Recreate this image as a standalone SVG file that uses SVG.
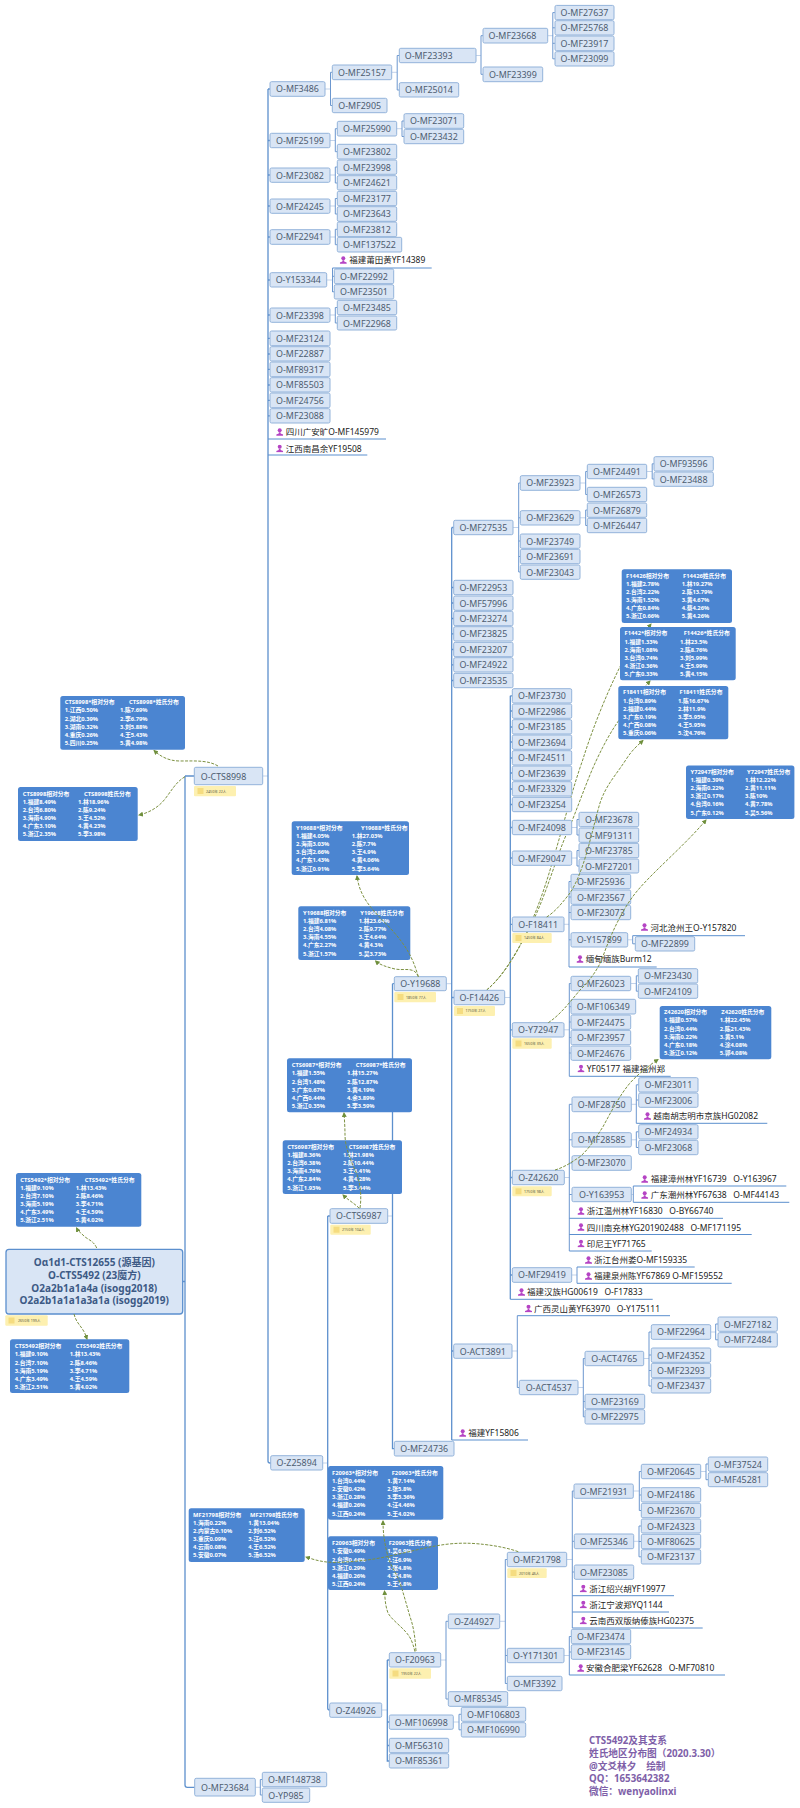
<svg xmlns="http://www.w3.org/2000/svg" xmlns:xlink="http://www.w3.org/1999/xlink" width="800" height="1808" viewBox="0 0 800 1808">
<style>
text{font-family:"Noto Sans","Noto Sans CJK SC",sans-serif}
.n{fill:#d9e5f5;stroke:#93b3da;stroke-width:1;rx:1.5px}
.t{font-size:8.9px;fill:#4d5c70;text-anchor:middle}
.p{font-size:8.5px;fill:#222;white-space:pre;font-family:"Noto Sans","Noto Sans CJK SC",sans-serif}
.u{stroke:#5b8fce;stroke-width:1;fill:none}
.v{stroke:#6c97cf;stroke-width:1;fill:none}
.v2{stroke:#5d90cd;stroke-width:1.3;fill:none}
.s{stroke:#c3d3ea;stroke-width:1;fill:none}
.d{stroke:#7d9142;stroke-width:1;fill:none;stroke-dasharray:3 1.4;marker-end:url(#ah)}
.c{fill:#4b85d1;rx:2.5px}
.ct{font-size:5.8px;font-weight:700;fill:#fff;font-family:"Noto Sans","Noto Sans CJK SC",sans-serif}
.g{fill:#fdf0b0;rx:1px}
.gt{font-size:3.6px;fill:#5a5a44}
.gi{fill:#f5dc80}
.w{font-size:9.7px;font-weight:700;fill:#7e60a8;font-family:"Noto Sans","Noto Sans CJK SC",sans-serif}
.r{font-size:10px;font-weight:700;fill:#3d5a85;text-anchor:middle;font-family:"Noto Sans","Noto Sans CJK SC",sans-serif}
</style>
<defs>
<marker id="ah" markerWidth="5" markerHeight="5" refX="4" refY="2.5" orient="auto" markerUnits="userSpaceOnUse"><path d="M0,0L5,2.5L0,5z" fill="#6f8f3c"/></marker>
<symbol id="pi" viewBox="0 0 7 8"><circle cx="3.5" cy="2.2" r="2" fill="#b544c4"/><path d="M2.6,4.2h1.8v1.2l2.6,1v1.4h-7v-1.4l2.6,-1z" fill="#b544c4"/></symbol>
</defs>
<g id="connectors">
<path class="v2" d="M182.7,1281.5H185M185,776H194M185,776V1785q0,2.3 2.3,2.3H194.7"/>
<path class="s" d="M262.7,776H268"/>
<path class="v2" d="M268,89V1461q0,2 2,2H271M268,89H270M268,140.5H270M268,175H270M268,206H270M268,237H270M268,280H270M268,315H270M268,338.3H270M268,354H270M268,369.3H270M268,385H270M268,400.3H270M268,415.8H270"/>
<path class="s" d="M325,89H330.5M391.7,72.3H397M476,55.5H481M547.7,35.7H553M330,140.5H335.3M396.7,128.7H402M330,175H335.3M330,206H335.3M330,237H335.3M326.7,280H332.5M330,315H335.3M513,527.5H518.7M580,483H585.7M646.7,471.5H652M580,517.8H585.7M571.7,827.5H577M571.7,858H577M564,924.3H569M627.7,939.8H632.7M564,1029.8H569.3M630.7,983.5H636.3M564.3,1177.5H569.3M631.3,1104.3H636.3M631.3,1139.8H636.3M631.3,1194.5H633.3M571.7,1275H577M512,1351H517.3M578,1387.5H583.3M643.7,1358.5H649M710.7,1332H715.7M440.7,1660H446M499.7,1621.3H505.3M566.7,1559.5H572.3M564,1655.5H569.3M633.3,1491H639.3M700.7,1471.5H706M633.7,1541.3H639M453.3,1722H459M255.3,1787.3H260.3M322.7,1463H327.7M387.7,1216H392.5M381.7,1710H387.3M446.3,983.7H451.7M504.7,997.5H510.3"/>
<path class="v" d="M330.5,72.3V105.5M330.5,72.3H332.3M330.5,105.5H332.3M397.2,55.5V90M397.2,55.5H399.3M397.2,90H399.3M481,35.7V74.3M481,35.7H483M481,74.3H483M552.8,12.6V58.8M552.8,12.6H555M552.8,27.8H555M552.8,43.3H555M552.8,58.8H555M335.3,128.7V151.7M335.3,128.7H337.3M335.3,151.7H337.3M402,121V136.5M402,121H404M402,136.5H404M335.3,167V183M335.3,167H337.3M335.3,183H337.3M335.3,198.5V214M335.3,198.5H337.3M335.3,214H337.3M335.3,229.3V244.7M335.3,229.3H337.3M335.3,244.7H337.3M332.5,268V292M332.5,276.3H334.3M332.5,291.8H334.3M335.3,307.5V323M335.3,307.5H337.3M335.3,323H337.3"/>
<path class="v2" d="M327.7,1216V1708q0,2 2,2M327.7,1216H330M392.5,983.7V1448.7H394.3M392.5,983.7H394.3M387.3,1660V1761H389.3M387.3,1660H389.3M387.3,1722H389.3M387.3,1745.5H389.3M451.7,527.5V1440M451.7,527.5H453.7M451.7,587.5H453.7M451.7,603H453.7M451.7,618.5H453.7M451.7,633.8H453.7M451.7,649.5H453.7M451.7,664.8H453.7M451.7,680.5H453.7M451.7,997.5H454M451.7,1351H453.7M510.3,695.8V1299.3M510.3,695.8H512.3M510.3,711H512.3M510.3,727H512.3M510.3,742H512.3M510.3,758H512.3M510.3,773H512.3M510.3,789H512.3M510.3,804.5H512.3M510.3,827.5H512.3M510.3,858H512.3M510.3,924.3H512.3M510.3,1029.8H512.3M510.3,1177.5H512.3M510.3,1275H512.3"/>
<path class="v" d="M518.7,483V572H520.3M518.7,483H520.3M518.7,517.8H520.3M518.7,541H520.3M518.7,556.5H520.3M585.7,471.5V494.5H587.3M585.7,471.5H587.3M652.2,463.8V479H654M652.2,463.8H654M585.7,510V525.5H587.3M585.7,510H587.3M577,819.5V835H579M577,819.5H579M577,850.5V866H579M577,850.5H579M569,881.5V967M569,881.5H571M569,897H571M569,912.5H571M569,939.8H571M632.7,935.7V943.8H635.3M569.3,983.5V1076.3M569.3,983.5H571M569.3,1006.7H571M569.3,1022H571M569.3,1037.5H571M569.3,1053H571M636.3,975.8V991.2H638.3M636.3,975.8H638.3M569.3,1104.3V1251M569.3,1104.3H572M569.3,1139.8H572M569.3,1163H572M569.3,1194.5H572M636.3,1084.8V1123.3M636.3,1084.8H638.7M636.3,1100H638.7M636.3,1131.8V1147.5H638.7M636.3,1131.8H638.7M633.3,1186V1202.3M577,1267V1283.3M517.3,1315.7V1387.5H519.3M583.3,1358.5V1416.8H585M583.3,1358.5H585M583.3,1401.5H585M649,1332V1386H651.3M649,1332H651.3M649,1355H651.3M649,1370.5H651.3M715.7,1324V1339.8H718M715.7,1324H718M446,1621.3V1699H448.3M446,1621.3H448.3M505.3,1559.5V1683.5H507.3M505.3,1559.5H507.3M505.3,1655.5H507.3M572.3,1491V1628M572.3,1491H574M572.3,1541.3H574.3M572.3,1572H574.3M569.3,1636.5V1675M569.3,1636.5H571.3M569.3,1652H571.3M639.3,1471.5V1510.5H641.3M639.3,1471.5H641.3M639.3,1495H641.3M706,1464V1479.7H708.3M706,1464H708.3M639,1526V1556.8H641.3M639,1526H641.3M639,1541.5H641.3M459,1714.3V1729.8H461.3M459,1714.3H461.3M260.3,1779.5V1795H262.3M260.3,1779.5H262.3"/>
<path class="d" d="M486.7,990C510,970 533,930 553,860C565,820 572,790 582.7,760C592,730 606,695 620,666.7C630,648 640,638 651,624"/>
<path class="d" d="M486.7,990C505,975 517,950 527,933C545,900 555,860 567,833C577,810 587,780 596.5,760C605,742 611,732 617,723C630,705 640,692 650,681"/>
</g>
<g id="nodes">
<g id="root"><rect x="6" y="1249.3" width="176.7" height="64.7" rx="3" fill="#d9e5f5" stroke="#5b8fce" stroke-width="1.3"/><text class="r" x="94.3" y="1266">Oα1d1-CTS12655 (源基因)</text><text class="r" x="94.3" y="1279">O-CTS5492 (23魔方)</text><text class="r" x="94.3" y="1291.7">O2a2b1a1a4a (isogg2018)</text><text class="r" x="94.3" y="1304.3">O2a2b1a1a1a3a1a (isogg2019)</text></g>
<g id="n-CTS8998"><rect class="n" x="194.3" y="767.3" width="68.4" height="17.4"/><text class="t" x="223.5" y="779.5">O-CTS8998</text></g>
<g id="n-MF23684"><rect class="n" x="194.7" y="1778.3" width="60.6" height="17.7"/><text class="t" x="225" y="1790.5">O-MF23684</text></g>
<g id="n-MF148738"><rect class="n" x="262.3" y="1772.3" width="64.4" height="14.4"/><text class="t" x="294.5" y="1783">O-MF148738</text></g>
<g id="n-YP985"><rect class="n" x="262.3" y="1788" width="47.4" height="14.3"/><text class="t" x="286" y="1798.7">O-YP985</text></g>
<g id="n-MF3486"><rect class="n" x="270" y="81.7" width="55" height="14.6"/><text class="t" x="297.5" y="92.4">O-MF3486</text></g>
<g id="n-MF25157"><rect class="n" x="332.3" y="65" width="59.4" height="14.7"/><text class="t" x="362" y="75.7">O-MF25157</text></g>
<g id="n-MF2905"><rect class="n" x="332.3" y="98.3" width="54.7" height="14.4"/><text class="t" x="359.7" y="109">O-MF2905</text></g>
<g id="n-MF23393"><rect class="n" x="399.3" y="48.3" width="76.7" height="14.4"/><text class="t" x="428.7" y="59">O-MF23393</text></g>
<g id="n-MF25014"><rect class="n" x="399.3" y="82.7" width="59.4" height="14.3"/><text class="t" x="429" y="93.4">O-MF25014</text></g>
<g id="n-MF23668"><rect class="n" x="483" y="28.3" width="64.7" height="14.7"/><text class="t" x="512.5" y="39">O-MF23668</text></g>
<g id="n-MF23399"><rect class="n" x="483" y="67" width="59.7" height="14.7"/><text class="t" x="512.8" y="77.7">O-MF23399</text></g>
<g id="n-MF27637"><rect class="n" x="555" y="5.4" width="59" height="14.3"/><text class="t" x="584.5" y="16.1">O-MF27637</text></g>
<g id="n-MF25768"><rect class="n" x="555" y="20.7" width="59" height="14.3"/><text class="t" x="584.5" y="31.4">O-MF25768</text></g>
<g id="n-MF23917"><rect class="n" x="555" y="36" width="59" height="14.7"/><text class="t" x="584.5" y="46.7">O-MF23917</text></g>
<g id="n-MF23099"><rect class="n" x="555" y="51.7" width="59" height="14.3"/><text class="t" x="584.5" y="62.4">O-MF23099</text></g>
<g id="n-MF25199"><rect class="n" x="270" y="133.3" width="60" height="14.4"/><text class="t" x="300" y="144">O-MF25199</text></g>
<g id="n-MF25990"><rect class="n" x="337.3" y="121.3" width="59.4" height="14.7"/><text class="t" x="367" y="132">O-MF25990</text></g>
<g id="n-MF23071"><rect class="n" x="404" y="113.7" width="59.7" height="14.6"/><text class="t" x="433.8" y="124.4">O-MF23071</text></g>
<g id="n-MF23432"><rect class="n" x="404" y="129.3" width="59.7" height="14.4"/><text class="t" x="433.8" y="140">O-MF23432</text></g>
<g id="n-MF23802"><rect class="n" x="337.3" y="144.3" width="59.4" height="14.7"/><text class="t" x="367" y="155">O-MF23802</text></g>
<g id="n-MF23082"><rect class="n" x="270" y="168" width="60" height="14.3"/><text class="t" x="300" y="178.7">O-MF23082</text></g>
<g id="n-MF23998"><rect class="n" x="337.3" y="160" width="59.4" height="14.3"/><text class="t" x="367" y="170.7">O-MF23998</text></g>
<g id="n-MF24621"><rect class="n" x="337.3" y="175.7" width="59.4" height="14.3"/><text class="t" x="367" y="186.4">O-MF24621</text></g>
<g id="n-MF24245"><rect class="n" x="270" y="199" width="60" height="14.3"/><text class="t" x="300" y="209.7">O-MF24245</text></g>
<g id="n-MF23177"><rect class="n" x="337.3" y="191.3" width="59.4" height="14.4"/><text class="t" x="367" y="202">O-MF23177</text></g>
<g id="n-MF23643"><rect class="n" x="337.3" y="206.7" width="59.4" height="14.6"/><text class="t" x="367" y="217.4">O-MF23643</text></g>
<g id="n-MF22941"><rect class="n" x="270" y="229.7" width="60" height="14.6"/><text class="t" x="300" y="240.4">O-MF22941</text></g>
<g id="n-MF23812"><rect class="n" x="337.3" y="222" width="59.4" height="14.7"/><text class="t" x="367" y="232.7">O-MF23812</text></g>
<g id="n-MF137522"><rect class="n" x="337.3" y="237.3" width="64.4" height="14.7"/><text class="t" x="369.5" y="248">O-MF137522</text></g>
<g id="n-Y153344"><rect class="n" x="270" y="272.7" width="56.7" height="14.3"/><text class="t" x="298.3" y="283.4">O-Y153344</text></g>
<g id="n-MF22992"><rect class="n" x="334.3" y="269" width="59.4" height="14.7"/><text class="t" x="364" y="279.7">O-MF22992</text></g>
<g id="n-MF23501"><rect class="n" x="334.3" y="284.7" width="59.4" height="14.3"/><text class="t" x="364" y="295.4">O-MF23501</text></g>
<g id="n-MF23398"><rect class="n" x="270" y="308" width="60" height="14.3"/><text class="t" x="300" y="318.7">O-MF23398</text></g>
<g id="n-MF23485"><rect class="n" x="337.3" y="300.3" width="59.4" height="14.4"/><text class="t" x="367" y="311">O-MF23485</text></g>
<g id="n-MF22968"><rect class="n" x="337.3" y="316" width="59.4" height="14"/><text class="t" x="367" y="326.7">O-MF22968</text></g>
<g id="n-MF23124"><rect class="n" x="270" y="331" width="60" height="14.7"/><text class="t" x="300" y="341.7">O-MF23124</text></g>
<g id="n-MF22887"><rect class="n" x="270" y="346.7" width="60" height="14.3"/><text class="t" x="300" y="357.4">O-MF22887</text></g>
<g id="n-MF89317"><rect class="n" x="270" y="362" width="60" height="14.7"/><text class="t" x="300" y="372.7">O-MF89317</text></g>
<g id="n-MF85503"><rect class="n" x="270" y="377.7" width="60" height="14.3"/><text class="t" x="300" y="388.4">O-MF85503</text></g>
<g id="n-MF24756"><rect class="n" x="270" y="393" width="60" height="14.7"/><text class="t" x="300" y="403.7">O-MF24756</text></g>
<g id="n-MF23088"><rect class="n" x="270" y="408.7" width="60" height="14.3"/><text class="t" x="300" y="419.4">O-MF23088</text></g>
<g id="p-putian"><use xlink:href="#pi" href="#pi" x="339.8" y="256" width="7" height="8"/><text class="p" x="349.3" y="263">福建莆田黄YF14389</text><path class="u" d="M332.5,268H431.7"/></g>
<g id="p-guangan"><use xlink:href="#pi" href="#pi" x="276.2" y="428" width="7" height="8"/><text class="p" x="285.7" y="435">四川广安旷O-MF145979</text><path class="u" d="M268,439H386"/></g>
<g id="p-nanchang"><use xlink:href="#pi" href="#pi" x="276.2" y="444.5" width="7" height="8"/><text class="p" x="285.7" y="451.7">江西南昌余YF19508</text><path class="u" d="M268,455H367.3"/></g>
<g id="n-Z25894"><rect class="n" x="270.7" y="1455.7" width="52" height="14.3"/><text class="t" x="296.7" y="1466.4">O-Z25894</text></g>
<g id="n-CTS6987"><rect class="n" x="330" y="1208.7" width="57.7" height="14.6"/><text class="t" x="358.8" y="1219.4">O-CTS6987</text></g>
<g id="n-Z44926"><rect class="n" x="329.7" y="1703" width="52" height="14.3"/><text class="t" x="355.7" y="1713.7">O-Z44926</text></g>
<g id="n-Y19688"><rect class="n" x="394.3" y="976.7" width="52" height="14"/><text class="t" x="420.3" y="987.4">O-Y19688</text></g>
<g id="n-MF24736"><rect class="n" x="394.3" y="1441.3" width="59.7" height="14.7"/><text class="t" x="424.2" y="1452">O-MF24736</text></g>
<g id="n-MF27535"><rect class="n" x="453.7" y="520.3" width="59.3" height="14.4"/><text class="t" x="483.3" y="531">O-MF27535</text></g>
<g id="n-MF22953"><rect class="n" x="453.7" y="580.3" width="59.3" height="14.4"/><text class="t" x="483.3" y="591">O-MF22953</text></g>
<g id="n-MF57996"><rect class="n" x="453.7" y="596" width="59.3" height="14.3"/><text class="t" x="483.3" y="606.7">O-MF57996</text></g>
<g id="n-MF23274"><rect class="n" x="453.7" y="611.3" width="59.3" height="14.4"/><text class="t" x="483.3" y="622">O-MF23274</text></g>
<g id="n-MF23825"><rect class="n" x="453.7" y="626.7" width="59.3" height="14.3"/><text class="t" x="483.3" y="637.4">O-MF23825</text></g>
<g id="n-MF23207"><rect class="n" x="453.7" y="642.3" width="59.3" height="14.4"/><text class="t" x="483.3" y="653">O-MF23207</text></g>
<g id="n-MF24922"><rect class="n" x="453.7" y="657.7" width="59.3" height="14.3"/><text class="t" x="483.3" y="668.4">O-MF24922</text></g>
<g id="n-MF23535"><rect class="n" x="453.7" y="673.3" width="59.3" height="14.4"/><text class="t" x="483.3" y="684">O-MF23535</text></g>
<g id="n-MF23923"><rect class="n" x="520.3" y="475.7" width="59.7" height="14.6"/><text class="t" x="550.2" y="486.4">O-MF23923</text></g>
<g id="n-MF23629"><rect class="n" x="520.3" y="510.7" width="59.7" height="14.3"/><text class="t" x="550.2" y="521.4">O-MF23629</text></g>
<g id="n-MF23749"><rect class="n" x="520.3" y="534" width="59.7" height="14.3"/><text class="t" x="550.2" y="544.7">O-MF23749</text></g>
<g id="n-MF23691"><rect class="n" x="520.3" y="549.3" width="59.7" height="14.4"/><text class="t" x="550.2" y="560">O-MF23691</text></g>
<g id="n-MF23043"><rect class="n" x="520.3" y="565" width="59.7" height="14.3"/><text class="t" x="550.2" y="575.7">O-MF23043</text></g>
<g id="n-MF24491"><rect class="n" x="587.3" y="464.3" width="59.4" height="14.4"/><text class="t" x="617" y="475">O-MF24491</text></g>
<g id="n-MF26573"><rect class="n" x="587.3" y="487.3" width="59.4" height="14.4"/><text class="t" x="617" y="498">O-MF26573</text></g>
<g id="n-MF26879"><rect class="n" x="587.3" y="503" width="59.4" height="14.3"/><text class="t" x="617" y="513.7">O-MF26879</text></g>
<g id="n-MF26447"><rect class="n" x="587.3" y="518.3" width="59.4" height="14.4"/><text class="t" x="617" y="529">O-MF26447</text></g>
<g id="n-MF93596"><rect class="n" x="654" y="456.7" width="59.3" height="14.3"/><text class="t" x="683.6" y="467.4">O-MF93596</text></g>
<g id="n-MF23488"><rect class="n" x="654" y="472" width="59.3" height="14.3"/><text class="t" x="683.6" y="482.7">O-MF23488</text></g>
<g id="n-F14426"><rect class="n" x="454" y="990.3" width="50.7" height="14.4"/><text class="t" x="479.3" y="1001">O-F14426</text></g>
<g id="n-MF23730"><rect class="n" x="512.3" y="688.7" width="59.4" height="14.3"/><text class="t" x="542" y="699.4">O-MF23730</text></g>
<g id="n-MF22986"><rect class="n" x="512.3" y="704" width="59.4" height="14.3"/><text class="t" x="542" y="714.7">O-MF22986</text></g>
<g id="n-MF23185"><rect class="n" x="512.3" y="719.7" width="59.4" height="14.3"/><text class="t" x="542" y="730.4">O-MF23185</text></g>
<g id="n-MF23694"><rect class="n" x="512.3" y="735" width="59.4" height="14.3"/><text class="t" x="542" y="745.7">O-MF23694</text></g>
<g id="n-MF24511"><rect class="n" x="512.3" y="750.7" width="59.4" height="14.3"/><text class="t" x="542" y="761.4">O-MF24511</text></g>
<g id="n-MF23639"><rect class="n" x="512.3" y="766" width="59.4" height="14.3"/><text class="t" x="542" y="776.7">O-MF23639</text></g>
<g id="n-MF23329"><rect class="n" x="512.3" y="781.7" width="59.4" height="14.3"/><text class="t" x="542" y="792.4">O-MF23329</text></g>
<g id="n-MF23254"><rect class="n" x="512.3" y="797.3" width="59.4" height="14.4"/><text class="t" x="542" y="808">O-MF23254</text></g>
<g id="n-MF24098"><rect class="n" x="512.3" y="820.3" width="59.4" height="14.4"/><text class="t" x="542" y="831">O-MF24098</text></g>
<g id="n-MF23678"><rect class="n" x="579" y="812.3" width="59.7" height="14.4"/><text class="t" x="608.8" y="823">O-MF23678</text></g>
<g id="n-MF91311"><rect class="n" x="579" y="828" width="59.7" height="14.3"/><text class="t" x="608.8" y="838.7">O-MF91311</text></g>
<g id="n-MF29047"><rect class="n" x="512.3" y="851" width="59.4" height="14.3"/><text class="t" x="542" y="861.7">O-MF29047</text></g>
<g id="n-MF23785"><rect class="n" x="579" y="843.3" width="59.7" height="14.4"/><text class="t" x="608.8" y="854">O-MF23785</text></g>
<g id="n-MF27201"><rect class="n" x="579" y="859" width="59.7" height="14"/><text class="t" x="608.8" y="869.7">O-MF27201</text></g>
<g id="n-F18411"><rect class="n" x="512.3" y="917" width="51.7" height="14.7"/><text class="t" x="538.2" y="927.7">O-F18411</text></g>
<g id="n-MF25936"><rect class="n" x="571" y="874.3" width="59.7" height="14.4"/><text class="t" x="600.8" y="885">O-MF25936</text></g>
<g id="n-MF23567"><rect class="n" x="571" y="890" width="59.7" height="14.3"/><text class="t" x="600.8" y="900.7">O-MF23567</text></g>
<g id="n-MF23073"><rect class="n" x="571" y="905.3" width="59.7" height="14.4"/><text class="t" x="600.8" y="916">O-MF23073</text></g>
<g id="n-Y157899"><rect class="n" x="571" y="932.7" width="56.7" height="14.3"/><text class="t" x="599.3" y="943.4">O-Y157899</text></g>
<g id="n-MF22899"><rect class="n" x="635.3" y="936.7" width="59.4" height="14.3"/><text class="t" x="665" y="947.4">O-MF22899</text></g>
<g id="p-hebei"><use xlink:href="#pi" href="#pi" x="641" y="923" width="7" height="8"/><text class="p" x="650.5" y="931">河北沧州王O-Y157820</text><path class="u" d="M632.7,935.7H745"/></g>
<g id="p-burm"><use xlink:href="#pi" href="#pi" x="576.5" y="955" width="7" height="8"/><text class="p" x="585.7" y="962.3">缅甸缅族Burm12</text><path class="u" d="M569,967H656.7"/></g>
<g id="n-Y72947"><rect class="n" x="512.3" y="1022.7" width="51.7" height="14.3"/><text class="t" x="538.2" y="1033.4">O-Y72947</text></g>
<g id="n-MF26023"><rect class="n" x="571" y="976.3" width="59.7" height="14.4"/><text class="t" x="600.8" y="987">O-MF26023</text></g>
<g id="n-MF23430"><rect class="n" x="638.3" y="968.7" width="59.4" height="14.3"/><text class="t" x="668" y="979.4">O-MF23430</text></g>
<g id="n-MF24109"><rect class="n" x="638.3" y="984" width="59.4" height="14.3"/><text class="t" x="668" y="994.7">O-MF24109</text></g>
<g id="n-MF106349"><rect class="n" x="571" y="999.3" width="64.7" height="14.7"/><text class="t" x="603.3" y="1010">O-MF106349</text></g>
<g id="n-MF24475"><rect class="n" x="571" y="1015" width="59.7" height="14.3"/><text class="t" x="600.8" y="1025.7">O-MF24475</text></g>
<g id="n-MF23957"><rect class="n" x="571" y="1030.3" width="59.7" height="14.4"/><text class="t" x="600.8" y="1041">O-MF23957</text></g>
<g id="n-MF24676"><rect class="n" x="571" y="1046" width="59.7" height="14.3"/><text class="t" x="600.8" y="1056.7">O-MF24676</text></g>
<g id="p-yf05177"><use xlink:href="#pi" href="#pi" x="577.5" y="1064.5" width="7" height="8"/><text class="p" x="586.7" y="1072">YF05177 福建福州郑</text><path class="u" d="M569.3,1076.3H670.7"/></g>
<g id="n-Z42620"><rect class="n" x="512.3" y="1170.3" width="52" height="14.4"/><text class="t" x="538.3" y="1181">O-Z42620</text></g>
<g id="n-MF28750"><rect class="n" x="572" y="1097" width="59.3" height="14.7"/><text class="t" x="601.7" y="1107.7">O-MF28750</text></g>
<g id="n-MF23011"><rect class="n" x="638.7" y="1077.7" width="59.3" height="14.3"/><text class="t" x="668.3" y="1088.4">O-MF23011</text></g>
<g id="n-MF23006"><rect class="n" x="638.7" y="1093" width="59.3" height="14.3"/><text class="t" x="668.3" y="1103.7">O-MF23006</text></g>
<g id="p-hcm"><use xlink:href="#pi" href="#pi" x="644" y="1112" width="7" height="8"/><text class="p" x="653.3" y="1119">越南胡志明市京族HG02082</text><path class="u" d="M636.3,1123.3H767.3"/></g>
<g id="n-MF28585"><rect class="n" x="572" y="1132.7" width="59.3" height="14.3"/><text class="t" x="601.7" y="1143.4">O-MF28585</text></g>
<g id="n-MF24934"><rect class="n" x="638.7" y="1124.7" width="59.3" height="14.3"/><text class="t" x="668.3" y="1135.4">O-MF24934</text></g>
<g id="n-MF23068"><rect class="n" x="638.7" y="1140.3" width="59.3" height="14.4"/><text class="t" x="668.3" y="1151">O-MF23068</text></g>
<g id="n-MF23070"><rect class="n" x="572" y="1155.7" width="59.3" height="14.6"/><text class="t" x="601.7" y="1166.4">O-MF23070</text></g>
<g id="n-Y163953"><rect class="n" x="572" y="1187.3" width="59.3" height="14.4"/><text class="t" x="601.7" y="1198">O-Y163953</text></g>
<g id="p-zhangzhou"><use xlink:href="#pi" href="#pi" x="641.2" y="1175" width="7" height="8"/><text class="p" x="650.7" y="1182">福建漳州林YF16739   O-Y163967</text><path class="u" d="M633.3,1186H786.3"/></g>
<g id="p-chaozhou"><use xlink:href="#pi" href="#pi" x="641.2" y="1191" width="7" height="8"/><text class="p" x="650.7" y="1198">广东潮州林YF67638   O-MF44143</text><path class="u" d="M633.3,1202.3H789.3"/></g>
<g id="p-wenzhou"><use xlink:href="#pi" href="#pi" x="577.5" y="1207" width="7" height="8"/><text class="p" x="586.7" y="1214.3">浙江温州林YF16830   O-BY66740</text><path class="u" d="M569.3,1218.3H723"/></g>
<g id="p-nanchong"><use xlink:href="#pi" href="#pi" x="577.5" y="1223" width="7" height="8"/><text class="p" x="586.7" y="1230.7">四川南充林YG201902488   O-MF171195</text><path class="u" d="M569.3,1234.5H751.7"/></g>
<g id="p-indo"><use xlink:href="#pi" href="#pi" x="577.5" y="1239.5" width="7" height="8"/><text class="p" x="586.7" y="1246.7">印尼王YF71765</text><path class="u" d="M569.3,1251H651.7"/></g>
<g id="n-MF29419"><rect class="n" x="512.3" y="1267.7" width="59.4" height="14.6"/><text class="t" x="542" y="1278.4">O-MF29419</text></g>
<g id="p-taizhou"><use xlink:href="#pi" href="#pi" x="585" y="1256" width="7" height="8"/><text class="p" x="594" y="1263">浙江台州娄O-MF159335</text><path class="u" d="M577,1267H694.7"/></g>
<g id="p-quanzhou"><use xlink:href="#pi" href="#pi" x="585" y="1272" width="7" height="8"/><text class="p" x="594" y="1279.3">福建泉州陈YF67869 O-MF159552</text><path class="u" d="M577,1283.3H731.7"/></g>
<g id="p-hg00619"><use xlink:href="#pi" href="#pi" x="518" y="1288" width="7" height="8"/><text class="p" x="527" y="1295.3">福建汉族HG00619   O-F17833</text><path class="u" d="M510.3,1299.3H652.7"/></g>
<g id="p-lingshan"><use xlink:href="#pi" href="#pi" x="525" y="1304.5" width="7" height="8"/><text class="p" x="534" y="1311.7">广西灵山黄YF63970   O-Y175111</text><path class="u" d="M517.3,1315.7H670"/></g>
<g id="n-ACT3891"><rect class="n" x="453.7" y="1344" width="58.3" height="14.3"/><text class="t" x="482.8" y="1354.7">O-ACT3891</text></g>
<g id="n-ACT4537"><rect class="n" x="519.3" y="1380.3" width="58.7" height="14.4"/><text class="t" x="548.7" y="1391">O-ACT4537</text></g>
<g id="n-ACT4765"><rect class="n" x="585" y="1351.3" width="58.7" height="14.4"/><text class="t" x="614.3" y="1362">O-ACT4765</text></g>
<g id="n-MF23169"><rect class="n" x="585" y="1394.3" width="59.7" height="14.4"/><text class="t" x="614.8" y="1405">O-MF23169</text></g>
<g id="n-MF22975"><rect class="n" x="585" y="1409.7" width="59.7" height="14.3"/><text class="t" x="614.8" y="1420.4">O-MF22975</text></g>
<g id="n-MF22964"><rect class="n" x="651.3" y="1324.7" width="59.4" height="14.6"/><text class="t" x="681" y="1335.4">O-MF22964</text></g>
<g id="n-MF24352"><rect class="n" x="651.3" y="1348" width="59.4" height="14.3"/><text class="t" x="681" y="1358.7">O-MF24352</text></g>
<g id="n-MF23293"><rect class="n" x="651.3" y="1363.3" width="59.4" height="14.4"/><text class="t" x="681" y="1374">O-MF23293</text></g>
<g id="n-MF23437"><rect class="n" x="651.3" y="1378.7" width="59.4" height="14.3"/><text class="t" x="681" y="1389.4">O-MF23437</text></g>
<g id="n-MF27182"><rect class="n" x="718" y="1317" width="59.3" height="14.3"/><text class="t" x="747.7" y="1327.7">O-MF27182</text></g>
<g id="n-MF72484"><rect class="n" x="718" y="1332.7" width="59.3" height="14.3"/><text class="t" x="747.7" y="1343.4">O-MF72484</text></g>
<g id="p-yf15806"><use xlink:href="#pi" href="#pi" x="459.2" y="1429" width="7" height="8"/><text class="p" x="468.3" y="1436">福建YF15806</text><path class="u" d="M451.7,1440H528"/></g>
<g id="n-F20963"><rect class="n" x="389.3" y="1652.7" width="51.4" height="14.3"/><text class="t" x="415" y="1663.4">O-F20963</text></g>
<g id="n-MF106998"><rect class="n" x="389.3" y="1715" width="64" height="14.3"/><text class="t" x="421.3" y="1725.7">O-MF106998</text></g>
<g id="n-MF106803"><rect class="n" x="461.3" y="1707.3" width="64.4" height="14"/><text class="t" x="493.5" y="1718">O-MF106803</text></g>
<g id="n-MF106990"><rect class="n" x="461.3" y="1722.7" width="64.4" height="14.3"/><text class="t" x="493.5" y="1733.4">O-MF106990</text></g>
<g id="n-MF56310"><rect class="n" x="389.3" y="1738.3" width="59.4" height="14.4"/><text class="t" x="419" y="1749">O-MF56310</text></g>
<g id="n-MF85361"><rect class="n" x="389.3" y="1753.7" width="59.4" height="14.3"/><text class="t" x="419" y="1764.4">O-MF85361</text></g>
<g id="n-Z44927"><rect class="n" x="448.3" y="1614" width="51.4" height="14.7"/><text class="t" x="474" y="1624.7">O-Z44927</text></g>
<g id="n-MF85345"><rect class="n" x="448.3" y="1691.7" width="59.4" height="14.6"/><text class="t" x="478" y="1702.4">O-MF85345</text></g>
<g id="n-MF21798"><rect class="n" x="507.3" y="1552.3" width="59.4" height="14.4"/><text class="t" x="537" y="1563">O-MF21798</text></g>
<g id="n-Y171301"><rect class="n" x="507.3" y="1648.3" width="56.7" height="14.4"/><text class="t" x="535.7" y="1659">O-Y171301</text></g>
<g id="n-MF3392"><rect class="n" x="507.3" y="1676.3" width="54.7" height="14.4"/><text class="t" x="534.7" y="1687">O-MF3392</text></g>
<g id="n-MF21931"><rect class="n" x="574" y="1484" width="59.3" height="14.3"/><text class="t" x="603.7" y="1494.7">O-MF21931</text></g>
<g id="n-MF25346"><rect class="n" x="574.3" y="1534" width="59.4" height="14.7"/><text class="t" x="604" y="1544.7">O-MF25346</text></g>
<g id="n-MF23085"><rect class="n" x="574.3" y="1565" width="59.4" height="14.3"/><text class="t" x="604" y="1575.7">O-MF23085</text></g>
<g id="n-MF20645"><rect class="n" x="641.3" y="1464.3" width="59.4" height="14.4"/><text class="t" x="671" y="1475">O-MF20645</text></g>
<g id="n-MF24186"><rect class="n" x="641.3" y="1487.7" width="59.4" height="14.3"/><text class="t" x="671" y="1498.4">O-MF24186</text></g>
<g id="n-MF23670"><rect class="n" x="641.3" y="1503.3" width="59.4" height="14.4"/><text class="t" x="671" y="1514">O-MF23670</text></g>
<g id="n-MF24323"><rect class="n" x="641.3" y="1519" width="59.4" height="14"/><text class="t" x="671" y="1529.7">O-MF24323</text></g>
<g id="n-MF80625"><rect class="n" x="641.3" y="1534.3" width="59.4" height="14.4"/><text class="t" x="671" y="1545">O-MF80625</text></g>
<g id="n-MF23137"><rect class="n" x="641.3" y="1549.7" width="59.4" height="14.3"/><text class="t" x="671" y="1560.4">O-MF23137</text></g>
<g id="n-MF37524"><rect class="n" x="708.3" y="1457" width="59.4" height="14.3"/><text class="t" x="738" y="1467.7">O-MF37524</text></g>
<g id="n-MF45281"><rect class="n" x="708.3" y="1472.7" width="59.4" height="14"/><text class="t" x="738" y="1483.4">O-MF45281</text></g>
<g id="p-shaoxing"><use xlink:href="#pi" href="#pi" x="579.8" y="1584.5" width="7" height="8"/><text class="p" x="589.3" y="1591.7">浙江绍兴胡YF19977</text><path class="u" d="M572.3,1595.7H674"/></g>
<g id="p-ningbo"><use xlink:href="#pi" href="#pi" x="579.8" y="1600.5" width="7" height="8"/><text class="p" x="589.3" y="1607.7">浙江宁波郑YQ1144</text><path class="u" d="M572.3,1612H669"/></g>
<g id="p-yunnan"><use xlink:href="#pi" href="#pi" x="579.8" y="1616.5" width="7" height="8"/><text class="p" x="589.3" y="1624">云南西双版纳傣族HG02375</text><path class="u" d="M572.3,1628H702.7"/></g>
<g id="n-MF23474"><rect class="n" x="571.3" y="1629.3" width="59.4" height="14.4"/><text class="t" x="601" y="1640">O-MF23474</text></g>
<g id="n-MF23145"><rect class="n" x="571.3" y="1644.7" width="59.4" height="14.6"/><text class="t" x="601" y="1655.4">O-MF23145</text></g>
<g id="p-hefei"><use xlink:href="#pi" href="#pi" x="577.2" y="1664" width="7" height="8"/><text class="p" x="586" y="1671">安徽合肥梁YF62628   O-MF70810</text><path class="u" d="M569.3,1675H725"/></g>
</g>
<g id="tags">
<g id="tag-root"><rect class="g" x="5.3" y="1315.3" width="42.4" height="10.4"/><rect class="gi" x="8.5" y="1317.5" width="6" height="6"/><text class="gt" x="18" y="1322">2650年  199人</text></g>
<g id="tag-CTS8998"><rect class="g" x="194" y="786" width="42" height="10.3"/><rect class="gi" x="197.5" y="788" width="6" height="6"/><text class="gt" x="206" y="792.5">2450年  22人</text></g>
<g id="tag-CTS6987"><rect class="g" x="330.3" y="1224.7" width="40.4" height="10"/><rect class="gi" x="333.5" y="1226.7" width="6" height="6"/><text class="gt" x="342" y="1231">2150年  104人</text></g>
<g id="tag-Y19688"><rect class="g" x="394.3" y="992" width="41.7" height="10.3"/><rect class="gi" x="397.5" y="994" width="6" height="6"/><text class="gt" x="406" y="998.5">1850年  77人</text></g>
<g id="tag-F14426"><rect class="g" x="454" y="1006" width="41" height="10"/><rect class="gi" x="457" y="1008" width="6" height="6"/><text class="gt" x="465.5" y="1012.3">1750年  27人</text></g>
<g id="tag-F18411"><rect class="g" x="512.3" y="933" width="39.4" height="10"/><rect class="gi" x="515.5" y="935" width="6" height="6"/><text class="gt" x="524" y="939.3">1450年  84人</text></g>
<g id="tag-Y72947"><rect class="g" x="512.3" y="1038.3" width="39.4" height="10.4"/><rect class="gi" x="515.5" y="1040.5" width="6" height="6"/><text class="gt" x="524" y="1044.8">1650年  39人</text></g>
<g id="tag-Z42620"><rect class="g" x="512.3" y="1186.3" width="39.4" height="10"/><rect class="gi" x="515.5" y="1188.3" width="6" height="6"/><text class="gt" x="524" y="1192.7">1750年  98人</text></g>
<g id="tag-F20963"><rect class="g" x="389.3" y="1668.3" width="41.7" height="10.4"/><rect class="gi" x="392.5" y="1670.5" width="6" height="6"/><text class="gt" x="401" y="1674.8">1950年  22人</text></g>
<g id="tag-MF21798"><rect class="g" x="507.3" y="1568.3" width="39.4" height="9.7"/><rect class="gi" x="510.5" y="1570" width="6" height="6"/><text class="gt" x="519" y="1574.5">2010年  46人</text></g>
</g>
<g id="callouts">
<g id="c-F14426"><rect class="c" x="621.7" y="569.3" width="110.3" height="53.7"/><text class="ct"><tspan x="626" y="577.7">F14426相对分布</tspan><tspan x="683" y="577.7">F14426姓氏分布</tspan><tspan x="626" y="585.8">1.福建2.78%</tspan><tspan x="681.7" y="585.8">1.林19.27%</tspan><tspan x="626" y="593.9">2.台湾2.22%</tspan><tspan x="681.7" y="593.9">2.陈13.79%</tspan><tspan x="626" y="602">3.海南1.52%</tspan><tspan x="681.7" y="602">3.黄4.67%</tspan><tspan x="626" y="610.1">4.广东0.84%</tspan><tspan x="681.7" y="610.1">4.蔡4.26%</tspan><tspan x="626" y="618.2">5.浙江0.66%</tspan><tspan x="681.7" y="618.2">5.黄4.26%</tspan></text></g>
<g id="c-F14426s"><rect class="c" x="620" y="627" width="115.7" height="53.3"/><text class="ct"><tspan x="624.5" y="635.4">F1442*相对分布</tspan><tspan x="683.7" y="635.4">F14426*姓氏分布</tspan><tspan x="624.5" y="643.5">1.福建1.33%</tspan><tspan x="680" y="643.5">1.林23.5%</tspan><tspan x="624.5" y="651.6">2.海南1.08%</tspan><tspan x="680" y="651.6">2.陈8.76%</tspan><tspan x="624.5" y="659.7">3.台湾0.74%</tspan><tspan x="680" y="659.7">3.刘5.99%</tspan><tspan x="624.5" y="667.8">4.浙江0.36%</tspan><tspan x="680" y="667.8">4.王5.99%</tspan><tspan x="624.5" y="675.9">5.广东0.33%</tspan><tspan x="680" y="675.9">5.黄4.15%</tspan></text></g>
<g id="c-F18411"><rect class="c" x="618.3" y="686" width="110" height="53.3"/><text class="ct"><tspan x="623" y="694.4">F18411相对分布</tspan><tspan x="679.5" y="694.4">F18411姓氏分布</tspan><tspan x="623" y="702.5">1.台湾0.89%</tspan><tspan x="678" y="702.5">1.陈16.67%</tspan><tspan x="623" y="710.6">2.福建0.44%</tspan><tspan x="678" y="710.6">2.林11.9%</tspan><tspan x="623" y="718.7">3.广东0.19%</tspan><tspan x="678" y="718.7">3.李5.95%</tspan><tspan x="623" y="726.8">4.广西0.08%</tspan><tspan x="678" y="726.8">4.王5.95%</tspan><tspan x="623" y="734.9">5.重庆0.06%</tspan><tspan x="678" y="734.9">5.沈4.76%</tspan></text></g>
<g id="c-Y72947"><rect class="c" x="686" y="765.5" width="108.4" height="53.5"/><text class="ct"><tspan x="690.5" y="774">Y72947相对分布</tspan><tspan x="747" y="774">Y72947姓氏分布</tspan><tspan x="690.5" y="782.1">1.福建0.39%</tspan><tspan x="745" y="782.1">1.林12.22%</tspan><tspan x="690.5" y="790.2">2.海南0.22%</tspan><tspan x="745" y="790.2">2.黄11.11%</tspan><tspan x="690.5" y="798.3">3.浙江0.17%</tspan><tspan x="745" y="798.3">3.陈10%</tspan><tspan x="690.5" y="806.4">4.台湾0.16%</tspan><tspan x="745" y="806.4">4.黄7.78%</tspan><tspan x="690.5" y="814.5">5.广东0.12%</tspan><tspan x="745" y="814.5">5.吴5.56%</tspan></text></g>
<g id="c-Z42620"><rect class="c" x="659.7" y="1006" width="111.6" height="53.3"/><text class="ct"><tspan x="664" y="1014.3">Z42620相对分布</tspan><tspan x="721.3" y="1014.3">Z42620姓氏分布</tspan><tspan x="664" y="1022.4">1.福建0.57%</tspan><tspan x="719.7" y="1022.4">1.林22.45%</tspan><tspan x="664" y="1030.5">2.台湾0.44%</tspan><tspan x="719.7" y="1030.5">2.陈21.43%</tspan><tspan x="664" y="1038.6">3.海南0.22%</tspan><tspan x="719.7" y="1038.6">3.黄5.1%</tspan><tspan x="664" y="1046.7">4.广东0.18%</tspan><tspan x="719.7" y="1046.7">4.涂4.08%</tspan><tspan x="664" y="1054.8">5.浙江0.12%</tspan><tspan x="719.7" y="1054.8">5.郭4.08%</tspan></text></g>
<g id="c-CTS8998s"><rect class="c" x="60.3" y="696" width="124.7" height="53.7"/><text class="ct"><tspan x="64.7" y="704.3">CTS8998*相对分布</tspan><tspan x="129" y="704.3">CTS8998*姓氏分布</tspan><tspan x="64.7" y="712.4">1.江西0.50%</tspan><tspan x="120" y="712.4">1.陈7.69%</tspan><tspan x="64.7" y="720.5">2.湖北0.39%</tspan><tspan x="120" y="720.5">2.李6.79%</tspan><tspan x="64.7" y="728.6">3.湖南0.32%</tspan><tspan x="120" y="728.6">3.刘5.88%</tspan><tspan x="64.7" y="736.7">4.重庆0.26%</tspan><tspan x="120" y="736.7">4.王5.43%</tspan><tspan x="64.7" y="744.8">5.四川0.25%</tspan><tspan x="120" y="744.8">5.黄4.98%</tspan></text></g>
<g id="c-CTS8998"><rect class="c" x="18" y="787" width="119.7" height="54"/><text class="ct"><tspan x="22.7" y="796">CTS8998相对分布</tspan><tspan x="84" y="796">CTS8998姓氏分布</tspan><tspan x="22.7" y="804">1.福建8.49%</tspan><tspan x="78" y="804">1.林18.96%</tspan><tspan x="22.7" y="812.1">2.台湾6.80%</tspan><tspan x="78" y="812.1">2.陈9.24%</tspan><tspan x="22.7" y="820.2">3.海南4.90%</tspan><tspan x="78" y="820.2">3.王4.52%</tspan><tspan x="22.7" y="828.3">4.广东3.10%</tspan><tspan x="78" y="828.3">4.黄4.23%</tspan><tspan x="22.7" y="836.4">5.浙江2.35%</tspan><tspan x="78" y="836.4">5.李3.98%</tspan></text></g>
<g id="c-Y19688s"><rect class="c" x="291.7" y="821.3" width="117.3" height="53.7"/><text class="ct"><tspan x="296" y="830">Y19688*相对分布</tspan><tspan x="361" y="830">Y19688*姓氏分布</tspan><tspan x="296" y="838.1">1.福建4.05%</tspan><tspan x="351.7" y="838.1">1.林27.03%</tspan><tspan x="296" y="846.2">2.海南3.03%</tspan><tspan x="351.7" y="846.2">2.陈7.7%</tspan><tspan x="296" y="854.3">3.台湾2.66%</tspan><tspan x="351.7" y="854.3">3.王4.9%</tspan><tspan x="296" y="862.4">4.广东1.43%</tspan><tspan x="351.7" y="862.4">4.黄4.06%</tspan><tspan x="296" y="870.5">5.浙江0.91%</tspan><tspan x="351.7" y="870.5">5.李3.64%</tspan></text></g>
<g id="c-Y19688"><rect class="c" x="298.3" y="906.3" width="112" height="53.7"/><text class="ct"><tspan x="303" y="915">Y19688相对分布</tspan><tspan x="360.3" y="915">Y19688姓氏分布</tspan><tspan x="303" y="923.1">1.福建6.81%</tspan><tspan x="358.7" y="923.1">1.林23.64%</tspan><tspan x="303" y="931.2">2.台湾4.08%</tspan><tspan x="358.7" y="931.2">2.陈9.77%</tspan><tspan x="303" y="939.3">3.海南4.55%</tspan><tspan x="358.7" y="939.3">3.王4.64%</tspan><tspan x="303" y="947.4">4.广东2.27%</tspan><tspan x="358.7" y="947.4">4.黄4.3%</tspan><tspan x="303" y="955.5">5.浙江1.57%</tspan><tspan x="358.7" y="955.5">5.吴3.73%</tspan></text></g>
<g id="c-CTS6987s"><rect class="c" x="287" y="1058.3" width="125" height="54"/><text class="ct"><tspan x="291.7" y="1067.3">CTS6987*相对分布</tspan><tspan x="355.7" y="1067.3">CTS6987*姓氏分布</tspan><tspan x="291.7" y="1075.4">1.福建1.55%</tspan><tspan x="347" y="1075.4">1.林15.27%</tspan><tspan x="291.7" y="1083.5">2.台湾1.48%</tspan><tspan x="347" y="1083.5">2.陈12.87%</tspan><tspan x="291.7" y="1091.6">3.广东0.67%</tspan><tspan x="347" y="1091.6">3.黄4.19%</tspan><tspan x="291.7" y="1099.7">4.广西0.44%</tspan><tspan x="347" y="1099.7">4.余3.89%</tspan><tspan x="291.7" y="1107.8">5.浙江0.35%</tspan><tspan x="347" y="1107.8">5.李3.59%</tspan></text></g>
<g id="c-CTS6987"><rect class="c" x="282.7" y="1140.3" width="119.3" height="53.7"/><text class="ct"><tspan x="287.3" y="1149">CTS6987相对分布</tspan><tspan x="348.7" y="1149">CTS6987姓氏分布</tspan><tspan x="287.3" y="1157.1">1.福建8.36%</tspan><tspan x="343" y="1157.1">1.林21.98%</tspan><tspan x="287.3" y="1165.2">2.台湾6.38%</tspan><tspan x="343" y="1165.2">2.陈10.44%</tspan><tspan x="287.3" y="1173.3">3.海南4.76%</tspan><tspan x="343" y="1173.3">3.王4.41%</tspan><tspan x="287.3" y="1181.4">4.广东2.84%</tspan><tspan x="343" y="1181.4">4.黄4.28%</tspan><tspan x="287.3" y="1189.5">5.浙江1.93%</tspan><tspan x="343" y="1189.5">5.李3.44%</tspan></text></g>
<g id="c-CTS5492s"><rect class="c" x="16" y="1173" width="125.3" height="53.7"/><text class="ct"><tspan x="20.3" y="1181.7">CTS5492*相对分布</tspan><tspan x="84.7" y="1181.7">CTS5492*姓氏分布</tspan><tspan x="20.3" y="1189.8">1.福建9.10%</tspan><tspan x="75.7" y="1189.8">1.林13.43%</tspan><tspan x="20.3" y="1197.9">2.台湾7.10%</tspan><tspan x="75.7" y="1197.9">2.陈8.46%</tspan><tspan x="20.3" y="1206">3.海南5.19%</tspan><tspan x="75.7" y="1206">3.李4.71%</tspan><tspan x="20.3" y="1214.1">4.广东3.49%</tspan><tspan x="75.7" y="1214.1">4.王4.59%</tspan><tspan x="20.3" y="1222.2">5.浙江2.51%</tspan><tspan x="75.7" y="1222.2">5.黄4.02%</tspan></text></g>
<g id="c-CTS5492"><rect class="c" x="10" y="1339.3" width="119.3" height="53.7"/><text class="ct"><tspan x="14.7" y="1348.3">CTS5492相对分布</tspan><tspan x="75.7" y="1348.3">CTS5492姓氏分布</tspan><tspan x="14.7" y="1356.4">1.福建9.10%</tspan><tspan x="69.7" y="1356.4">1.林13.43%</tspan><tspan x="14.7" y="1364.5">2.台湾7.10%</tspan><tspan x="69.7" y="1364.5">2.陈8.46%</tspan><tspan x="14.7" y="1372.6">3.海南5.19%</tspan><tspan x="69.7" y="1372.6">3.李4.71%</tspan><tspan x="14.7" y="1380.7">4.广东3.49%</tspan><tspan x="69.7" y="1380.7">4.王4.59%</tspan><tspan x="14.7" y="1388.8">5.浙江2.51%</tspan><tspan x="69.7" y="1388.8">5.黄4.02%</tspan></text></g>
<g id="c-F20963s"><rect class="c" x="328" y="1466" width="115.3" height="53.7"/><text class="ct"><tspan x="332" y="1475">F20963*相对分布</tspan><tspan x="391.7" y="1475">F20963*姓氏分布</tspan><tspan x="332" y="1483.1">1.台湾0.44%</tspan><tspan x="387.3" y="1483.1">1.黄7.14%</tspan><tspan x="332" y="1491.2">2.安徽0.42%</tspan><tspan x="387.3" y="1491.2">2.张5.8%</tspan><tspan x="332" y="1499.3">3.浙江0.28%</tspan><tspan x="387.3" y="1499.3">3.李5.36%</tspan><tspan x="332" y="1507.4">4.福建0.26%</tspan><tspan x="387.3" y="1507.4">4.汪4.46%</tspan><tspan x="332" y="1515.5">5.江西0.24%</tspan><tspan x="387.3" y="1515.5">5.王4.02%</tspan></text></g>
<g id="c-F20963"><rect class="c" x="328" y="1536.3" width="110" height="53.7"/><text class="ct"><tspan x="332" y="1545.3">F20963相对分布</tspan><tspan x="388.7" y="1545.3">F20963姓氏分布</tspan><tspan x="332" y="1553.4">1.安徽0.49%</tspan><tspan x="387.3" y="1553.4">1.吴6.9%</tspan><tspan x="332" y="1561.5">2.台湾0.44%</tspan><tspan x="387.3" y="1561.5">2.汪6.9%</tspan><tspan x="332" y="1569.6">3.浙江0.29%</tspan><tspan x="387.3" y="1569.6">3.张4.8%</tspan><tspan x="332" y="1577.7">4.福建0.26%</tspan><tspan x="387.3" y="1577.7">4.李4.8%</tspan><tspan x="332" y="1585.8">5.江西0.24%</tspan><tspan x="387.3" y="1585.8">5.王4.8%</tspan></text></g>
<g id="c-MF21798"><rect class="c" x="188.7" y="1508.3" width="116" height="53.7"/><text class="ct"><tspan x="193" y="1516.7">MF21798相对分布</tspan><tspan x="250" y="1516.7">MF21798姓氏分布</tspan><tspan x="193" y="1524.8">1.海南0.22%</tspan><tspan x="248.3" y="1524.8">1.黄13.04%</tspan><tspan x="193" y="1532.9">2.内蒙古0.10%</tspan><tspan x="248.3" y="1532.9">2.刘6.52%</tspan><tspan x="193" y="1541">3.重庆0.09%</tspan><tspan x="248.3" y="1541">3.汪6.52%</tspan><tspan x="193" y="1549.1">4.云南0.08%</tspan><tspan x="248.3" y="1549.1">4.王6.52%</tspan><tspan x="193" y="1557.2">5.安徽0.07%</tspan><tspan x="248.3" y="1557.2">5.汤6.52%</tspan></text></g>
</g>
<g id="connectors-over">
<path class="d" d="M218,766C208,760 195,761 180,761C168,761 160,756 154,750.5"/>
<path class="d" d="M185,776.7C176,782 172,790 165,799C158,808 148,813 139,815"/>
<path class="d" d="M96.7,1248C93,1240 88,1240 84,1236C81,1233 78,1231 76.5,1228"/>
<path class="d" d="M74,1314C76,1322 80,1325 83,1330C85,1333 86,1336 87,1339"/>
<path class="d" d="M359.3,1208.3C354,1203 348,1200 343,1195"/>
<path class="d" d="M360,1208C362,1195 360,1180 355,1170C349,1157 345,1145 345,1135C345,1128 344.5,1120 344,1113"/>
<path class="d" d="M418.3,976.7C414,966 405,971 395,969C387,967 380,965 375.5,961"/>
<path class="d" d="M418.3,976.7C412,955 405,945 392,930C375,912 360,900 357,876"/>
<path class="d" d="M546.7,917C555,912 563,902 570,893C585,870 592,830 600,803C606,785 616,775 625.7,760C632,750 638,745 643,740.5"/>
<path class="d" d="M548.3,1022.7C560,1015 570,1002 580,990C590,980 596,972 601.7,960C612,930 625,905 638,890C655,870 685,845 706,820"/>
<path class="d" d="M555,1170C565,1167 572,1162 580,1156.7C590,1148 597,1136 603,1126.7C612,1110 620,1095 630,1083C640,1072 650,1065 658,1059.5"/>
<path class="d" d="M415,1651.7C412,1640 410,1637 406.7,1633C400,1625 392,1620 388,1613C385,1605 385,1597 384.5,1591"/>
<path class="d" d="M416,1651C415,1635 413,1625 410,1616.7C406,1603 404,1595 400,1583C396,1572 390,1565 388,1556.7C385,1545 383,1535 383,1521"/>
<path class="d" d="M518.3,1551.7C505,1547 490,1545 480,1544C460,1542 445,1544 430,1547C410,1551 385,1558 366.7,1560C350,1562 335,1563 326.7,1562C318,1561 312,1559 306,1557"/>
</g>
<g id="credit">
<text class="w" x="589" y="1744.3">CTS5492及其支系</text>
<text class="w" x="589" y="1757">姓氏地区分布图（2020.3.30）</text>
<text class="w" x="589" y="1770">@文爻林夕　绘制</text>
<text class="w" x="589" y="1782.3">QQ：1653642382</text>
<text class="w" x="589" y="1795.3">微信：wenyaolinxi</text>
</g>
</svg>
